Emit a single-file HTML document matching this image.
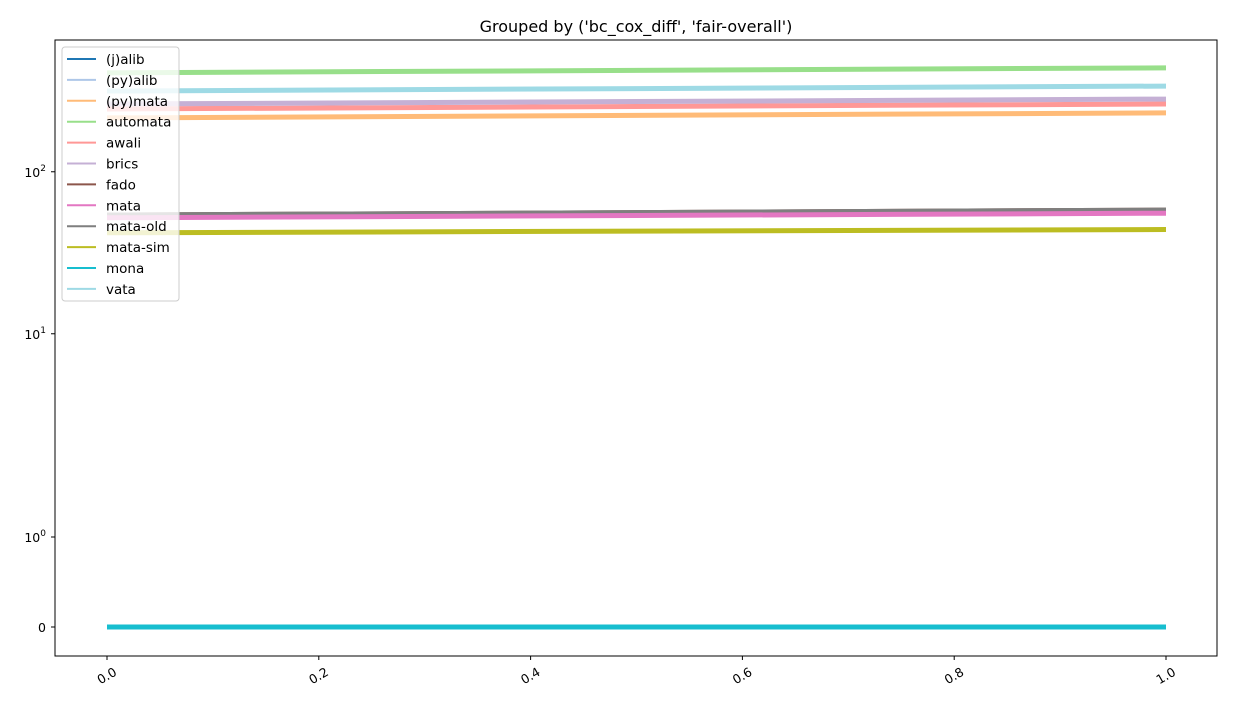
<!DOCTYPE html>
<html><head><meta charset="utf-8"><style>
body{margin:0;background:#fff;font-family:"Liberation Sans","DejaVu Sans",sans-serif;}
svg text{font-family:"DejaVu Sans","Liberation Sans",sans-serif;}
</style></head><body>
<svg id="chart" width="1237" height="709" xmlns="http://www.w3.org/2000/svg">
<rect width="1237" height="709" fill="#fff"/>
<text x="636" y="32" text-anchor="middle" font-size="16">Grouped by ('bc_cox_diff', 'fair-overall')</text>
<g id="lines"></g>
<rect x="55" y="40" width="1162" height="616" fill="none" stroke="#000" stroke-width="1"/>
<g id="axes"></g>
<g id="legend"></g>
</svg>
<script>
const seriesNames=["(j)alib","(py)alib","(py)mata","automata","awali","brics","fado","mata","mata-old","mata-sim","mona","vata"];
const colors=["#1f77b4","#aec7e8","#ffbb78","#98df8a","#ff9896","#c5b0d5","#8c564b","#e377c2","#7f7f7f","#bcbd22","#17becf","#9edae5"];
const xValues=[0,1];
const startValues=[0,0,215,408,244,262,54,52,54,42,0,315];
const endValues=[0,0,231,438,262,281,58,55.5,58,44,0,338];
const xTicks=[0,0.2,0.4,0.6,0.8,1.0];
const xTickLabels=["0.0","0.2","0.4","0.6","0.8","1.0"];
const yTicks=[0,1,10,100];
const yTickLabels=["0","10<tspan dy='-6' font-size='9'>0</tspan>","10<tspan dy='-6' font-size='9'>1</tspan>","10<tspan dy='-6' font-size='9'>2</tspan>"];
const NS="http://www.w3.org/2000/svg";
function xs(v){return 107+v*(1166-107);}
function T(v){const lt=2,ls=1/(1-0.1);const a=Math.abs(v);let t=a<=lt?a*ls:lt*(ls+Math.log10(a/lt));return v<0?-t:t;}
function ys(v){return 627-T(v)*81;}
function mk(tag,attrs,parent){const e=document.createElementNS(NS,tag);for(const k in attrs)e.setAttribute(k,attrs[k]);parent.appendChild(e);return e;}
const lines=document.getElementById('lines');
const order=[0,1,2,3,4,5,6,8,7,9,10,11];
order.forEach(i=>{
 const l=mk('line',{x1:xs(xValues[0]),y1:ys(startValues[i]),x2:xs(xValues[1]),y2:ys(endValues[i]),stroke:colors[i],'stroke-width':5},lines);
 
 
});
const axes=document.getElementById('axes');
xTicks.forEach((t,i)=>{
 const x=xs(t);
 const tk=mk('line',{x1:x,y1:656,x2:x,y2:660,stroke:'#000'},axes);
 
 
 const tx=mk('text',{x:x,y:680,'font-size':12.5,'text-anchor':'middle',transform:`rotate(-30 ${x} 676)`},axes);
 tx.textContent=xTickLabels[i];
 
 
});
yTicks.forEach((t,i)=>{
 const y=ys(t);
 const tk=mk('line',{x1:51,y1:y,x2:55,y2:y,stroke:'#000'},axes);
 
 
 const tx=mk('text',{x:46,y:y+5,'font-size':12.5,'text-anchor':'end'},axes);
 tx.innerHTML=yTickLabels[i];
 
 
});
const lg=document.getElementById('legend');
const box=mk('rect',{x:62,y:47,width:117,height:254,rx:3,fill:'#fff','fill-opacity':0.8,stroke:'#ccc'},lg);


seriesNames.forEach((n,i)=>{
 const y=59+i*20.9;
 const g=mk('g',{},lg);
 
 
 mk('line',{x1:67,y1:y,x2:96,y2:y,stroke:colors[i],'stroke-width':2},g);
 const t=mk('text',{x:106,y:y+5,'font-size':13.5},g);
 t.textContent=n;
});
</script>
</body></html>
